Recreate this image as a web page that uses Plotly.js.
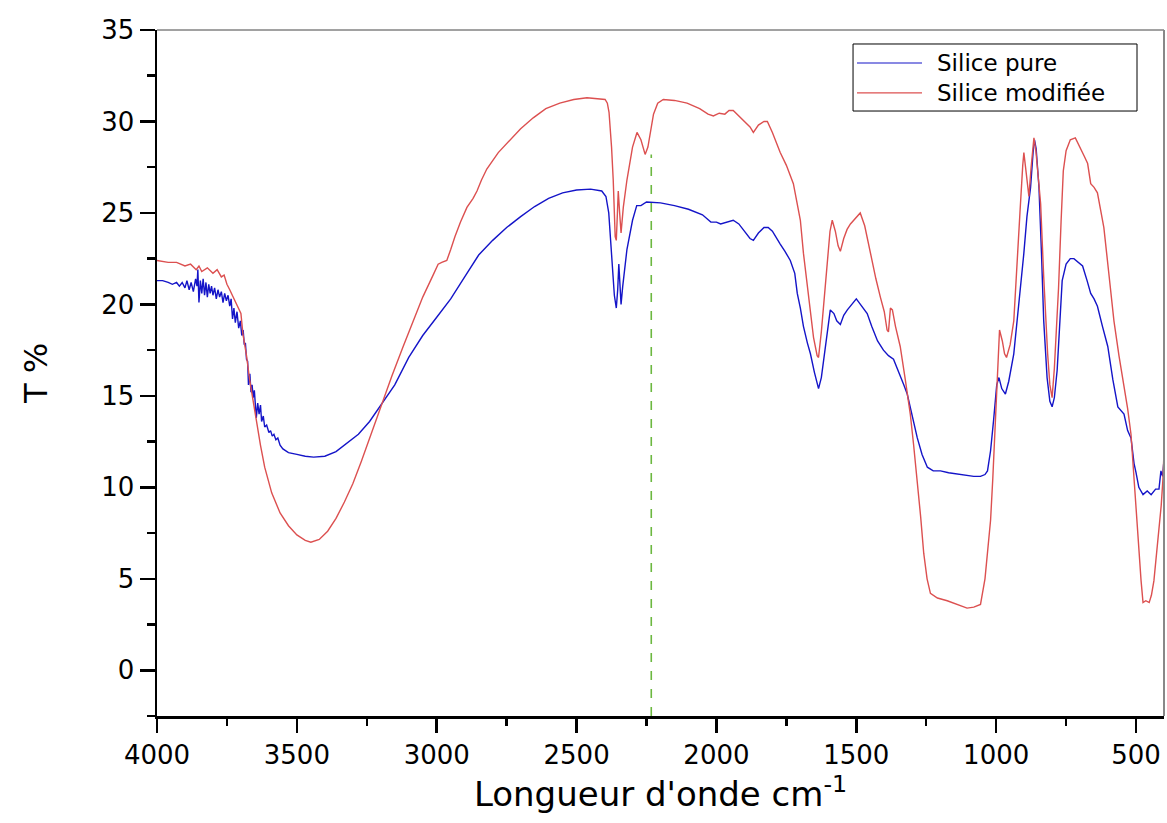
<!DOCTYPE html>
<html>
<head>
<meta charset="utf-8">
<script src="https://cdn.plot.ly/plotly-3.0.1.min.js"></script>
<style>html,body{margin:0;padding:0;background:#fff;}#chart{width:1167px;height:823px;}</style>
</head>
<body>
<div id="chart"></div>
<script>
// Silice pure (blue)
const wnPure = [4000,3980,3960,3945,3930,3920,3910,3900,3893,3885,3878,3870,3862,3857,3854,3850,3845,3840,3835,3830,3825,3820,3815,3810,3805,3800,3794,3788,3782,3776,3770,3764,3758,3752,3746,3740,3735,3730,3725,3720,3714,3708,3702,3697,3692,3688,3684,3680,3676,3673,3668,3664,3660,3656,3652,3648,3645,3640,3635,3630,3626,3620,3615,3608,3600,3594,3588,3582,3575,3568,3560,3550,3530,3500,3470,3440,3400,3360,3320,3280,3240,3200,3150,3100,3050,3000,2950,2900,2850,2800,2750,2700,2650,2600,2550,2500,2450,2410,2395,2385,2375,2365,2358,2353,2349,2345,2341,2335,2320,2300,2285,2270,2250,2200,2150,2100,2050,2020,2000,1985,1960,1940,1920,1900,1880,1868,1850,1830,1815,1800,1785,1772,1755,1736,1720,1711,1700,1689,1675,1664,1650,1640,1635,1625,1617,1605,1593,1580,1570,1557,1545,1532,1515,1500,1490,1475,1461,1445,1424,1403,1385,1367,1350,1330,1318,1300,1282,1265,1246,1225,1199,1170,1127,1080,1056,1040,1031,1020,1009,998,990,980,967,955,937,920,901,890,877,868,863,857,847,838,830,818,808,800,792,782,772,764,750,735,722,705,691,675,662,650,638,620,601,583,565,543,530,518,507,500,490,475,460,446,430,418,411,405,400];
const tPure = [21.3,21.3,21.2,21.1,21.2,21.0,21.2,20.9,21.3,20.8,21.2,20.7,21.4,21.0,21.9,20.1,21.3,20.6,21.4,20.5,21.2,20.4,21.1,20.6,21.0,20.5,20.9,20.3,20.8,20.4,20.7,20.1,20.6,20.2,20.5,19.9,20.3,19.2,19.8,19.0,19.6,18.7,19.1,18.3,18.6,17.8,17.9,17.0,16.9,15.6,16.2,15.2,15.6,14.9,15.3,14.4,13.8,14.6,14.0,14.5,13.6,13.9,13.3,13.4,13.0,13.1,12.8,12.9,12.6,12.7,12.3,12.1,11.9,11.8,11.7,11.65,11.7,11.95,12.4,12.9,13.6,14.5,15.6,17.1,18.3,19.3,20.3,21.5,22.7,23.5,24.2,24.8,25.35,25.8,26.1,26.25,26.3,26.2,25.9,25.0,23.0,20.5,19.8,20.8,22.2,21.2,20.0,21.0,23.0,24.6,25.4,25.4,25.6,25.55,25.4,25.2,24.9,24.5,24.5,24.4,24.5,24.6,24.4,24.0,23.6,23.5,23.9,24.2,24.2,24.0,23.6,23.3,22.9,22.4,21.7,20.6,19.8,18.8,17.9,17.3,16.3,15.6,15.4,16.0,16.9,18.5,19.7,19.5,19.1,18.9,19.4,19.7,20.0,20.3,20.1,19.8,19.5,18.8,18.0,17.5,17.2,17.0,16.4,15.6,15.1,13.9,12.7,11.8,11.1,10.9,10.9,10.8,10.7,10.6,10.6,10.7,10.9,12.0,13.7,15.6,16.0,15.4,15.1,15.8,17.3,19.8,22.8,24.8,26.4,28.3,29.0,28.5,26.4,22.8,19.1,16.0,14.7,14.4,14.9,16.4,19.0,21.3,22.2,22.5,22.5,22.3,22.1,21.3,20.6,20.3,19.9,18.8,17.7,15.9,14.4,14.0,13.1,12.7,11.3,10.8,10.0,9.6,9.8,9.6,9.9,9.9,10.9,10.6,11.5];

// Silice modifiée (red)
const wnMod = [4000,3960,3930,3900,3880,3860,3850,3840,3820,3800,3785,3770,3760,3750,3740,3725,3711,3700,3693,3680,3669,3655,3644,3630,3615,3590,3560,3530,3500,3470,3450,3420,3390,3360,3330,3300,3270,3240,3200,3160,3120,3085,3050,3013,2995,2982,2964,2950,2935,2915,2892,2870,2856,2840,2821,2780,2738,2700,2655,2610,2560,2510,2463,2420,2398,2390,2384,2375,2369,2362,2358,2354,2351,2346,2341,2333,2320,2300,2284,2270,2255,2245,2237,2225,2210,2190,2150,2105,2060,2030,2011,1990,1970,1955,1940,1920,1900,1880,1868,1850,1830,1818,1800,1785,1772,1750,1725,1710,1700,1689,1675,1663,1653,1640,1635,1625,1614,1604,1594,1586,1575,1565,1557,1545,1533,1521,1505,1486,1470,1450,1430,1414,1400,1390,1385,1378,1371,1360,1343,1325,1307,1295,1282,1270,1259,1247,1235,1210,1175,1140,1104,1080,1056,1040,1030,1020,1012,1003,995,988,978,970,963,950,937,925,915,905,901,895,889,883,875,868,865,858,850,841,830,823,816,808,800,792,785,777,768,760,750,735,717,700,685,673,666,662,650,638,627,615,598,579,561,543,530,518,509,500,490,482,475,465,453,445,436,427,418,410,404,400];
const tMod = [22.4,22.3,22.3,22.1,22.2,21.9,22.1,21.8,22.0,21.7,21.9,21.5,21.6,21.1,20.8,20.3,19.9,19.5,18.4,17.2,15.9,14.6,13.5,12.3,11.1,9.7,8.6,7.9,7.4,7.1,7.0,7.15,7.6,8.3,9.2,10.2,11.4,12.7,14.4,16.1,17.7,19.0,20.4,21.6,22.2,22.3,22.4,23.0,23.7,24.5,25.3,25.8,26.2,26.8,27.4,28.3,29.0,29.6,30.2,30.7,31.0,31.2,31.3,31.25,31.2,31.0,30.5,28.6,26.8,23.7,23.5,25.0,26.2,25.0,23.9,25.3,26.8,28.6,29.4,29.0,28.2,28.6,29.4,30.4,31.0,31.2,31.15,31.0,30.7,30.4,30.3,30.45,30.4,30.6,30.6,30.3,30.0,29.7,29.4,29.8,30.0,30.0,29.4,28.8,28.3,27.6,26.6,25.4,24.6,22.8,21.0,19.5,18.2,17.2,17.1,18.5,20.5,22.4,24.0,24.6,24.0,23.2,22.9,23.6,24.1,24.4,24.7,25.0,24.3,22.8,21.4,20.4,19.6,18.6,18.5,19.8,19.7,18.8,17.7,15.9,14.0,12.3,10.4,8.4,6.4,5.0,4.2,3.95,3.8,3.6,3.4,3.45,3.6,5.0,6.8,8.2,10.5,13.7,16.5,18.6,18.0,17.3,17.1,17.8,19.1,22.0,25.0,27.6,28.3,27.5,26.5,25.9,27.5,28.8,29.1,28.4,27.0,25.5,21.5,19.0,17.3,15.6,14.9,16.5,18.5,20.9,24.5,27.3,28.4,29.0,29.1,28.6,28.1,27.7,26.8,26.6,26.4,26.1,25.2,24.2,21.8,19.1,17.2,15.5,14.3,12.9,10.8,8.6,6.7,4.9,3.7,3.8,3.7,4.1,4.9,6.2,7.7,9.0,10.4,11.9];

// green dashed marker line
const markWn = [2233, 2233];
const markT = [-2.5, 28.2];

const seriesNames = ["Silice pure", "Silice modifiée"];
const seriesColors = ['#1414c8', '#dc5050'];
const xTickVals = [4000,3500,3000,2500,2000,1500,1000,500];
const yTickVals = [0,5,10,15,20,25,30,35];

const FONT = "'DejaVu Sans', Arial, sans-serif";

const traces = [
  {x: wnPure, y: tPure, type: 'scatter', mode: 'lines', name: seriesNames[0],
   line: {color: seriesColors[0], width: 1.4}},
  {x: wnMod, y: tMod, type: 'scatter', mode: 'lines', name: seriesNames[1],
   line: {color: seriesColors[1], width: 1.4}},
  {x: markWn, y: markT, type: 'scatter', mode: 'lines', hoverinfo: 'skip',
   line: {color: '#6cb840', width: 1.6, dash: 'dash'}}
];

// manual legend (paper coordinates)
const lgX0 = 0.6912, lgX1 = 0.9732, lgY0 = 0.8819, lgY1 = 0.9796;
const lgRows = [0.9519, 0.9082];
const lgLineX = [0.6951, 0.7597], lgTextX = 0.7726;

const shapes = [
  {type: 'line', xref: 'paper', yref: 'paper', x0: 0, x1: 1, y0: 1, y1: 1, line: {color: '#444', width: 1}},
  {type: 'line', xref: 'paper', yref: 'paper', x0: 1, x1: 1, y0: 0, y1: 1, line: {color: '#888', width: 2}},
  {type: 'rect', xref: 'paper', yref: 'paper', x0: lgX0, x1: lgX1, y0: lgY0, y1: lgY1,
   line: {color: '#000', width: 1}, fillcolor: '#ffffff', layer: 'above'}
];
const annotations = [];
seriesNames.forEach((nm, i) => {
  shapes.push({type: 'line', xref: 'paper', yref: 'paper', x0: lgLineX[0], x1: lgLineX[1],
    y0: lgRows[i], y1: lgRows[i], line: {color: seriesColors[i], width: 1.2}, layer: 'above'});
  annotations.push({xref: 'paper', yref: 'paper', x: lgTextX, y: lgRows[i], xanchor: 'left', yanchor: 'middle',
    text: nm, showarrow: false, font: {family: FONT, size: 23, color: '#000'}});
});

const layout = {
  width: 1167, height: 823,
  margin: {l: 157, r: 3, t: 30, b: 107},
  paper_bgcolor: '#ffffff', plot_bgcolor: '#ffffff',
  font: {family: FONT, color: '#000'},
  showlegend: false,
  xaxis: {
    range: [4000, 400], autorange: false,
    tickvals: xTickVals, ticktext: xTickVals.map(String),
    ticks: 'outside', ticklen: 14, tickwidth: 2.5, tickcolor: '#000',
    minor: {dtick: 250, tick0: 0, ticks: 'outside', ticklen: 7, tickwidth: 2.5, tickcolor: '#000'},
    showline: true, linecolor: '#000', linewidth: 2.5, mirror: false,
    showgrid: false, zeroline: false,
    tickfont: {family: FONT, size: 26, color: '#000'},
    title: {text: "Longueur d'onde cm<sup>-1</sup>", font: {family: FONT, size: 34, color: '#000'}, standoff: 14}
  },
  yaxis: {
    range: [-2.5, 35], autorange: false,
    tickvals: yTickVals, ticktext: yTickVals.map(String),
    ticks: 'outside', ticklen: 15, tickwidth: 2.5, tickcolor: '#000',
    minor: {dtick: 2.5, tick0: 0, ticks: 'outside', ticklen: 8, tickwidth: 2.5, tickcolor: '#000'},
    showline: true, linecolor: '#000', linewidth: 2.5, mirror: false,
    showgrid: false, zeroline: false,
    tickfont: {family: FONT, size: 26, color: '#000'},
    title: {text: "T %", font: {family: FONT, size: 32, color: '#000'}, standoff: 44}
  },
  shapes: shapes,
  annotations: annotations
};

Plotly.newPlot('chart', traces, layout, {displayModeBar: false, staticPlot: true});
</script>
</body>
</html>
